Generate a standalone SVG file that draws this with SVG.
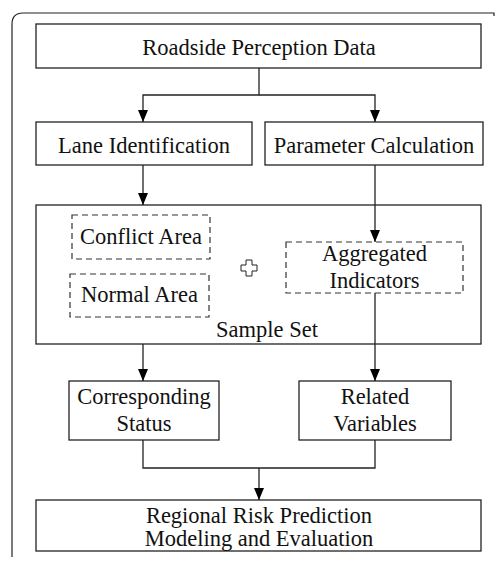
<svg xmlns="http://www.w3.org/2000/svg" width="495" height="563" viewBox="0 0 495 563">
<defs>
<marker id="arr" viewBox="0 0 12 10" refX="12" refY="5" markerWidth="12" markerHeight="10" markerUnits="userSpaceOnUse" orient="auto">
<path d="M0,0 L12,5 L0,10 Z" fill="#000"/>
</marker>
<style>
.box{fill:#fff;stroke:#222;stroke-width:1.3}
.dash{fill:#fff;stroke:#333;stroke-width:1.2;stroke-dasharray:6,4}
.t{font-family:"Liberation Serif","Times New Roman",serif;font-size:22.5px;fill:#111;text-anchor:middle}
.c{fill:none;stroke:#222;stroke-width:1.3}
</style>
</defs>
<rect width="495" height="563" fill="#fff"/>
<path d="M12,557 V24 Q12,13 23,13 H494 V16" fill="none" stroke="#222" stroke-width="1.2"/>
<g id="roadside">
<rect class="box" x="36" y="24" width="445" height="44"/>
<text class="t" x="259" y="55">Roadside Perception Data</text>
</g>
<g id="lane">
<rect class="box" x="36" y="122" width="216" height="43"/>
<text class="t" x="144" y="153">Lane Identification</text>
</g>
<g id="param">
<rect class="box" x="265" y="122" width="218" height="43"/>
<text class="t" x="374" y="153">Parameter Calculation</text>
</g>
<g id="sampleset">
<rect class="box" x="36" y="205" width="445" height="139"/>
<text class="t" x="267" y="337">Sample Set</text>
</g>
<g id="conflict">
<rect class="dash" x="72" y="215" width="138" height="44"/>
<text class="t" x="141" y="244">Conflict Area</text>
</g>
<g id="normal">
<rect class="dash" x="70" y="274" width="139" height="43"/>
<text class="t" x="139.5" y="302">Normal Area</text>
</g>
<g id="plus">
<path d="M246,260 H252 V265 H257 V271 H252 V276 H246 V271 H241 V265 H246 Z" fill="#fff" stroke="#222" stroke-width="1"/>
</g>
<g id="aggregated">
<rect class="dash" x="286" y="242" width="177" height="51"/>
<text class="t" x="374.5" y="261">Aggregated</text>
<text class="t" x="374.5" y="288">Indicators</text>
</g>
<g id="status">
<rect class="box" x="69" y="381" width="150" height="59"/>
<text class="t" x="144" y="404">Corresponding</text>
<text class="t" x="144" y="431">Status</text>
</g>
<g id="related">
<rect class="box" x="299" y="381" width="152" height="59"/>
<text class="t" x="375" y="404">Related</text>
<text class="t" x="375" y="431">Variables</text>
</g>
<g id="regional">
<rect class="box" x="36" y="500" width="445" height="51"/>
<text class="t" x="259" y="523">Regional Risk Prediction</text>
<text class="t" x="259" y="546">Modeling and Evaluation</text>
</g>
<g id="connectors">
<path class="c" d="M259,68 V95 H143 V122" marker-end="url(#arr)"/>
<path class="c" d="M259,95 H375 V122" marker-end="url(#arr)"/>
<path class="c" d="M143,165 V205" marker-end="url(#arr)"/>
<path class="c" d="M375,165 V242" marker-end="url(#arr)"/>
<path class="c" d="M143,344 V381" marker-end="url(#arr)"/>
<path class="c" d="M375,293 V381" marker-end="url(#arr)"/>
<path class="c" d="M143,440 V468 H375 V440"/>
<path class="c" d="M259,468 V500" marker-end="url(#arr)"/>
</g>
</svg>
